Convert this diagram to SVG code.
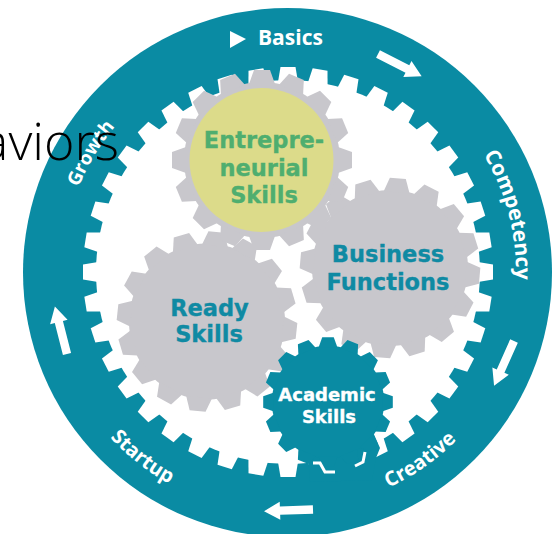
<svg xmlns="http://www.w3.org/2000/svg" width="553" height="534" viewBox="0 0 553 534">
<style>
.lbl{font-family:"DejaVu Sans",Verdana,sans-serif;font-weight:700;text-anchor:middle;stroke-width:.35}
.lt{fill:#0f8aa3;stroke:#0f8aa3}
.lg{fill:#4fae6f;stroke:#4fae6f}
.lw{fill:#fff;stroke:#fff}
.ring{font-family:"Open Sans",sans-serif;font-weight:700;fill:#fff;font-size:20px}
.teal{fill:#0a8ba3}
.arrow{fill:#fff}
.tick{fill:none;stroke:#fff;stroke-width:3}
</style>
<defs>
<polygon id="rt" points="-10,-190 -7.5,-205 7.5,-205 10,-190"/>
<g id="rt10">
<use href="#rt"/><use href="#rt" transform="rotate(9)"/><use href="#rt" transform="rotate(18)"/><use href="#rt" transform="rotate(27)"/><use href="#rt" transform="rotate(36)"/><use href="#rt" transform="rotate(45)"/><use href="#rt" transform="rotate(54)"/><use href="#rt" transform="rotate(63)"/><use href="#rt" transform="rotate(72)"/><use href="#rt" transform="rotate(81)"/>
</g>
<polygon id="gt" points="-13,-76 -8,-90 8,-90 13,-76"/>
<g id="gear16">
<circle r="78"/>
<use href="#gt"/><use href="#gt" transform="rotate(22.5)"/><use href="#gt" transform="rotate(45)"/><use href="#gt" transform="rotate(67.5)"/><use href="#gt" transform="rotate(90)"/><use href="#gt" transform="rotate(112.5)"/><use href="#gt" transform="rotate(135)"/><use href="#gt" transform="rotate(157.5)"/><use href="#gt" transform="rotate(180)"/><use href="#gt" transform="rotate(202.5)"/><use href="#gt" transform="rotate(225)"/><use href="#gt" transform="rotate(247.5)"/><use href="#gt" transform="rotate(270)"/><use href="#gt" transform="rotate(292.5)"/><use href="#gt" transform="rotate(315)"/><use href="#gt" transform="rotate(337.5)"/>
</g>
<polygon id="arr" points="0,-4.2 33,-4.2 33,-9 49,0 33,9 33,4.2 0,4.2"/>
<path id="pCompetency" d="M481.4,151.2A228,228 0 0 1 512.5,311.6"/>
<path id="pGrowth" d="M78.5,187.3A226,226 0 0 1 143,99"/>
<path id="pStartup" d="M107.4,434.6A243,243 0 0 0 267,514"/>
<path id="pCreative" d="M388.6,487.7A238,238 0 0 0 503.7,372.6"/>
</defs>
<rect width="553" height="534" fill="#fff"/>
<g id="outer-ring">
<circle class="teal" cx="287.5" cy="272.5" r="264.5"/>
<g fill="#fff" transform="translate(288,272)">
<circle r="192"/>
<use href="#rt10"/><use href="#rt10" transform="rotate(90)"/><use href="#rt10" transform="rotate(180)"/><use href="#rt10" transform="rotate(270)"/>
</g>
</g>
<g id="ready-skills">
<use href="#gear16" fill="#c8c7cc" transform="translate(207,321.5) rotate(6)"/>
<text class="lbl lt" x="209.5" y="316" font-size="22.5">Ready</text>
<text class="lbl lt" x="209" y="342" font-size="22.5">Skills</text>
</g>
<g id="business-functions">
<use href="#gear16" fill="#c8c7cc" transform="translate(390,268) rotate(5)"/>
<text class="lbl lt" x="388" y="262" font-size="22.5">Business</text>
<text class="lbl lt" x="388" y="290" font-size="22.5">Functions</text>
</g>
<g id="entrepreneurial-skills">
<use href="#gear16" fill="#c8c7cc" transform="translate(262,160)"/>
<circle cx="261.5" cy="160" r="72" fill="#dcdb8a"/>
<text class="lbl lg" x="264" y="148" font-size="22.5">Entrepre-</text>
<text class="lbl lg" x="264" y="176" font-size="22.5">neurial</text>
<text class="lbl lg" x="264" y="203" font-size="22.5">Skills</text>
</g>
<g id="academic-skills">
<polygon class="teal" points="308,455 330,440 372,430 380,448 376,458 372,480 310,482"/>
<use href="#gear16" class="teal" transform="translate(328,402) scale(.72)"/>
<polyline class="tick" points="313,463 320,463 325,472 335,472"/>
<polyline class="tick" points="355,466 363,462 365,452"/>
<text class="lbl lw" x="327" y="401" font-size="18">Academic</text>
<text class="lbl lw" x="329" y="423" font-size="18">Skills</text>
</g>
<g id="basics">
<polygon fill="#fff" points="230,31 246,39 230,48"/>
<text class="ring" x="258" y="45" style="font-size:21px">Basics</text>
</g>
<g id="competency"><text class="ring" style="font-size:21px"><textPath href="#pCompetency" startOffset="4">Competency</textPath></text></g>
<g id="growth"><text class="ring" style="font-size:19px"><textPath href="#pGrowth">Growth</textPath></text></g>
<g id="startup"><text class="ring"><textPath href="#pStartup" startOffset="4">Startup</textPath></text></g>
<g id="creative"><text class="ring"><textPath href="#pCreative">Creative</textPath></text></g>
<g id="connectors">
<use href="#arr" class="arrow" transform="translate(378,54) rotate(27)"/>
<use href="#arr" class="arrow" transform="translate(514,341) rotate(114)"/>
<use href="#arr" class="arrow" transform="translate(313,509.5) rotate(178)"/>
<use href="#arr" class="arrow" transform="translate(67,354) rotate(255.7)"/>
</g>
<text x="119" y="160" text-anchor="end" font-family="Open Sans, sans-serif" font-weight="300" font-size="52" fill="#000">aviors</text>
</svg>
